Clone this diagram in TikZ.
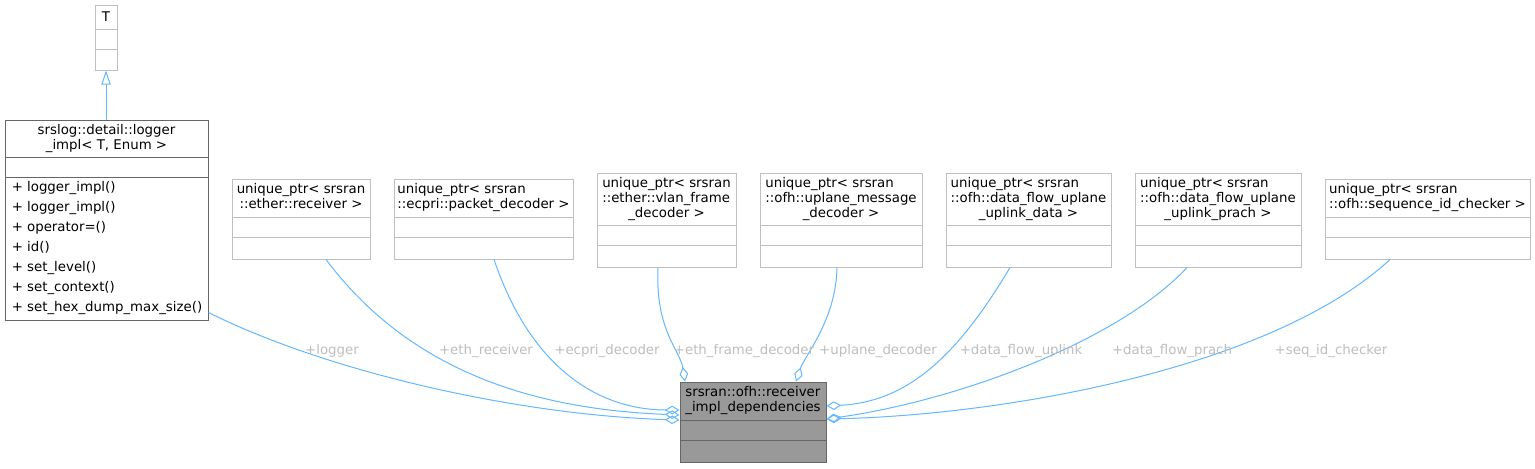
\documentclass[tikz,border=0pt]{standalone}
\usepackage{fontspec}
\setmainfont{DejaVu Sans}
\usetikzlibrary{arrows.meta,calc,fit}
\definecolor{edgeblue}{HTML}{63B8FF}
\definecolor{lblgrey}{HTML}{BEBEBE}
\definecolor{boxlight}{HTML}{BFBFBF}
\definecolor{boxdark}{HTML}{666666}
\definecolor{mainfill}{HTML}{999999}
\tikzset{
  umlbox/.style={draw=boxlight, line width=0.75pt, inner sep=0pt, rectangle},
  darkbox/.style={umlbox, draw=boxdark},
  mainbox/.style={umlbox, draw=boxdark, fill=mainfill},
  ttl/.style={font=\fontsize{10}{11.25}\selectfont, inner sep=0pt, text=black},
  lightsep/.style={draw=boxlight, line width=0.75pt},
  darksep/.style={draw=boxdark, line width=0.75pt},
  edge/.style={draw=edgeblue, line width=0.75pt},
  agg/.style={edge, arrows={Diamond[open,length=11pt,width=6.5pt]-}},
  inh/.style={edge, arrows={Triangle[open,length=10.5pt,width=7pt]-}},
  lbl/.style={font=\fontsize{10}{12}\selectfont, text=lblgrey, inner sep=0pt},
}
\begin{document}
\begin{tikzpicture}[x=0.75pt,y=-0.75pt]
\useasboundingbox[fill=white] (0,0) rectangle (1535,468);

% ---- T
\node[umlbox, fit={(95,5) (117,70)}] (T) {};
\draw[lightsep] (95,29) -- (117,29) (95,49) -- (117,49);
\node[ttl] (Tt) at (106,17) {T};

% ---- logger_impl
\node[darkbox, fit={(5,120) (208,320)}] (logger) {};
\draw[darksep] (5,157) -- (208,157) (5,177) -- (208,177);
\node[ttl] (loggert) at (106.5,138.5) {\begin{tabular}{@{}l@{}}srslog::detail::logger\\\multicolumn{1}{@{}c@{}}{\_impl< T, Enum >}\end{tabular}};
\node[ttl, anchor=west, align=left, font=\fontsize{10}{15}\selectfont] (loggerm) at (11.5,248.5)
  {+ logger\_impl()\\+ logger\_impl()\\+ operator=()\\+ id()\\+ set\_level()\\+ set\_context()\\+ set\_hex\_dump\_max\_size()};

% ---- unique_ptr boxes
\node[umlbox, fit={(232,179) (370,259)}] (recv) {};
\draw[lightsep] (232,217) -- (370,217) (232,237) -- (370,237);
\node[ttl] (recvt) at (301,198) {\begin{tabular}{@{}l@{}}unique\_ptr< srsran\\\multicolumn{1}{@{}c@{}}{::ether::receiver >}\end{tabular}};

\node[umlbox, fit={(394,179) (573,259)}] (ecpri) {};
\draw[lightsep] (394,217) -- (573,217) (394,237) -- (573,237);
\node[ttl] (ecprit) at (483.5,198) {\begin{tabular}{@{}l@{}}unique\_ptr< srsran\\\multicolumn{1}{@{}c@{}}{::ecpri::packet\_decoder >}\end{tabular}};

\node[umlbox, fit={(597,173) (736,267)}] (vlan) {};
\draw[lightsep] (597,225) -- (736,225) (597,245) -- (736,245);
\node[ttl] (vlant) at (666.5,199) {\begin{tabular}{@{}l@{}}unique\_ptr< srsran\\::ether::vlan\_frame\\\multicolumn{1}{@{}c@{}}{\_decoder >}\end{tabular}};

\node[umlbox, fit={(760,173) (922,267)}] (uplane) {};
\draw[lightsep] (760,225) -- (922,225) (760,245) -- (922,245);
\node[ttl] (uplanet) at (841,199) {\begin{tabular}{@{}l@{}}unique\_ptr< srsran\\::ofh::uplane\_message\\\multicolumn{1}{@{}c@{}}{\_decoder >}\end{tabular}};

\node[umlbox, fit={(946,173) (1111,267)}] (dfu) {};
\draw[lightsep] (946,225) -- (1111,225) (946,245) -- (1111,245);
\node[ttl] (dfut) at (1028.5,199) {\begin{tabular}{@{}l@{}}unique\_ptr< srsran\\::ofh::data\_flow\_uplane\\\multicolumn{1}{@{}c@{}}{\_uplink\_data >}\end{tabular}};

\node[umlbox, fit={(1135,173) (1301,267)}] (prach) {};
\draw[lightsep] (1135,225) -- (1301,225) (1135,245) -- (1301,245);
\node[ttl] (pracht) at (1218,199) {\begin{tabular}{@{}l@{}}unique\_ptr< srsran\\::ofh::data\_flow\_uplane\\\multicolumn{1}{@{}c@{}}{\_uplink\_prach >}\end{tabular}};

\node[umlbox, fit={(1325,179) (1530,259)}] (seq) {};
\draw[lightsep] (1325,217) -- (1530,217) (1325,237) -- (1530,237);
\node[ttl] (seqt) at (1427.5,198) {\begin{tabular}{@{}l@{}}unique\_ptr< srsran\\\multicolumn{1}{@{}c@{}}{::ofh::sequence\_id\_checker >}\end{tabular}};

% ---- main
\node[mainbox, fit={(680,382) (826,462)}] (main) {};
\draw[darksep] (680,420) -- (826,420) (680,440) -- (826,440);
\node[ttl] (maint) at (753,401) {\begin{tabular}{@{}l@{}}srsran::ofh::receiver\\\multicolumn{1}{@{}c@{}}{\_impl\_dependencies}\end{tabular}};

% ---- inheritance
\draw[inh] (T.south) -- (T.south |- logger.north);

% ---- aggregations
\draw[agg] ($(main.west)+(0,-2)$) .. controls (520,415) and (330,373) .. ($(logger.north east)+(0,193)$);
\draw[agg] ($(main.west)+(0,-7)$) .. controls (560,410) and (420,385) .. ($(recv.south)+(25,0)$);
\draw[agg] ($(main.west)+(0,-12)$) .. controls (610,410) and (535,380) .. ($(ecpri.south)+(10.5,0)$);
\draw[agg] ($(main.north)+(-68,0)$) .. controls (680,350) and (655,330) .. ($(vlan.south)+(-8.5,0)$);
\draw[agg] ($(main.north)+(43,0)$) .. controls (805,355) and (836,320) .. ($(uplane.south)+(-4,0)$);
\draw[agg] ($(main.east)+(0,-16)$) .. controls (905,402) and (955,360) .. ($(dfu.south)+(-18.5,0)$);
\draw[agg] ($(main.east)+(0,-3)$) .. controls (960,400) and (1120,340) .. ($(prach.south)+(-31,0)$);
\draw[agg] ($(main.east)+(0,-3)$) .. controls (1000,415) and (1270,370) .. ($(seq.south)+(-37.5,0)$);

% ---- labels
\node[lbl] (l1) at (332,351) {+logger};
\node[lbl] (l2) at (486,351) {+eth\_receiver};
\node[lbl] (l3) at (607,351) {+ecpri\_decoder};
\node[lbl] (l4) at (744,351) {+eth\_frame\_decoder};
\node[lbl] (l5) at (878,351) {+uplane\_decoder};
\node[lbl] (l6) at (1021,351) {+data\_flow\_uplink};
\node[lbl] (l7) at (1172,351) {+data\_flow\_prach};
\node[lbl] (l8) at (1331,351) {+seq\_id\_checker};
\end{tikzpicture}
\end{document}
